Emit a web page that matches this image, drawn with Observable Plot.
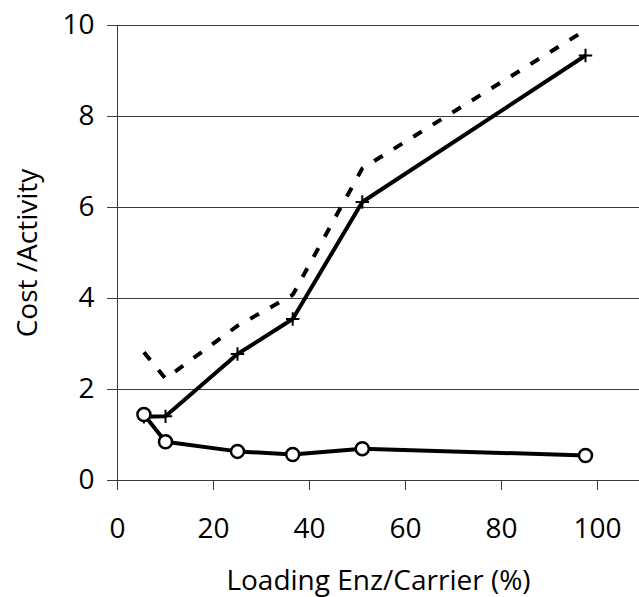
<!DOCTYPE html>
<html>
<head>
<meta charset="utf-8">
<script src="https://cdn.jsdelivr.net/npm/d3@7"></script>
<script src="https://cdn.jsdelivr.net/npm/@observablehq/plot@0.6"></script>
<style>
  html, body { margin: 0; padding: 0; background: #fff; }
  #chart svg { display: block; }
</style>
</head>
<body>
<div id="chart"></div>
<script>
// Loading Enz/Carrier (%)
const loading = [5.5, 10, 25, 36.5, 51, 97.5];
// Series values (Cost /Activity)
const costCircle = [1.45, 0.85, 0.64, 0.57, 0.70, 0.55];
const costPlus   = [1.40, 1.41, 2.78, 3.55, 6.12, 9.34];
const costDashed = [2.82, 2.24, 3.40, 4.08, 6.86, 9.90];
// Tick labels
const xTicks = [0, 20, 40, 60, 80, 100];
const yTicks = [0, 2, 4, 6, 8, 10];
const yGrid  = [2, 4, 6, 8, 10];

const circleData = loading.map((x, i) => ({x, y: costCircle[i]}));
const plusData   = loading.map((x, i) => ({x, y: costPlus[i]}));
const dashedData = loading.map((x, i) => ({x, y: costDashed[i]}));

const axisColor = "#3a3a3a";

const chart = Plot.plot({
  width: 639,
  height: 597,
  marginLeft: 117,
  marginRight: 0,
  marginTop: 25,
  marginBottom: 117,
  style: {fontFamily: "'Open Sans', sans-serif", fontSize: "28px", color: "#000", background: "#fff"},
  x: {domain: [0, 108.75]},
  y: {domain: [0, 10]},
  marks: [
    Plot.gridY(yGrid, {stroke: axisColor, strokeOpacity: 1, strokeWidth: 1}),
    Plot.axisY(yTicks, {
      tickSize: 10, tickPadding: 13, stroke: axisColor,
      fontSize: 28,
      label: "Cost /Activity", labelAnchor: "center", labelOffset: 100, labelArrow: "none"
    }),
    Plot.axisX(xTicks, {
      tickSize: 10, tickPadding: 28, stroke: axisColor,
      fontSize: 28,
      label: "Loading Enz/Carrier (%)", labelAnchor: "center", labelOffset: 109, labelArrow: "none"
    }),
    Plot.ruleY([0], {stroke: axisColor, strokeWidth: 1}),
    Plot.ruleX([0], {stroke: axisColor, strokeWidth: 1}),
    Plot.line(dashedData, {x: "x", y: "y", stroke: "#000", strokeWidth: 4, strokeDasharray: "10,13", strokeLinecap: "butt", strokeLinejoin: "miter"}),
    Plot.line(plusData, {x: "x", y: "y", stroke: "#000", strokeWidth: 4, strokeLinejoin: "miter", strokeLinecap: "butt"}),
    Plot.line(circleData, {x: "x", y: "y", stroke: "#000", strokeWidth: 4, strokeLinejoin: "miter", strokeLinecap: "butt"}),
    Plot.dot(plusData, {x: "x", y: "y", symbol: "plus", r: 4.4, stroke: "#000", strokeWidth: 2}),
    Plot.dot(circleData, {x: "x", y: "y", r: 6.5, fill: "#fff", stroke: "#000", strokeWidth: 2.5})
  ]
});

document.getElementById("chart").appendChild(chart);
</script>
</body>
</html>
